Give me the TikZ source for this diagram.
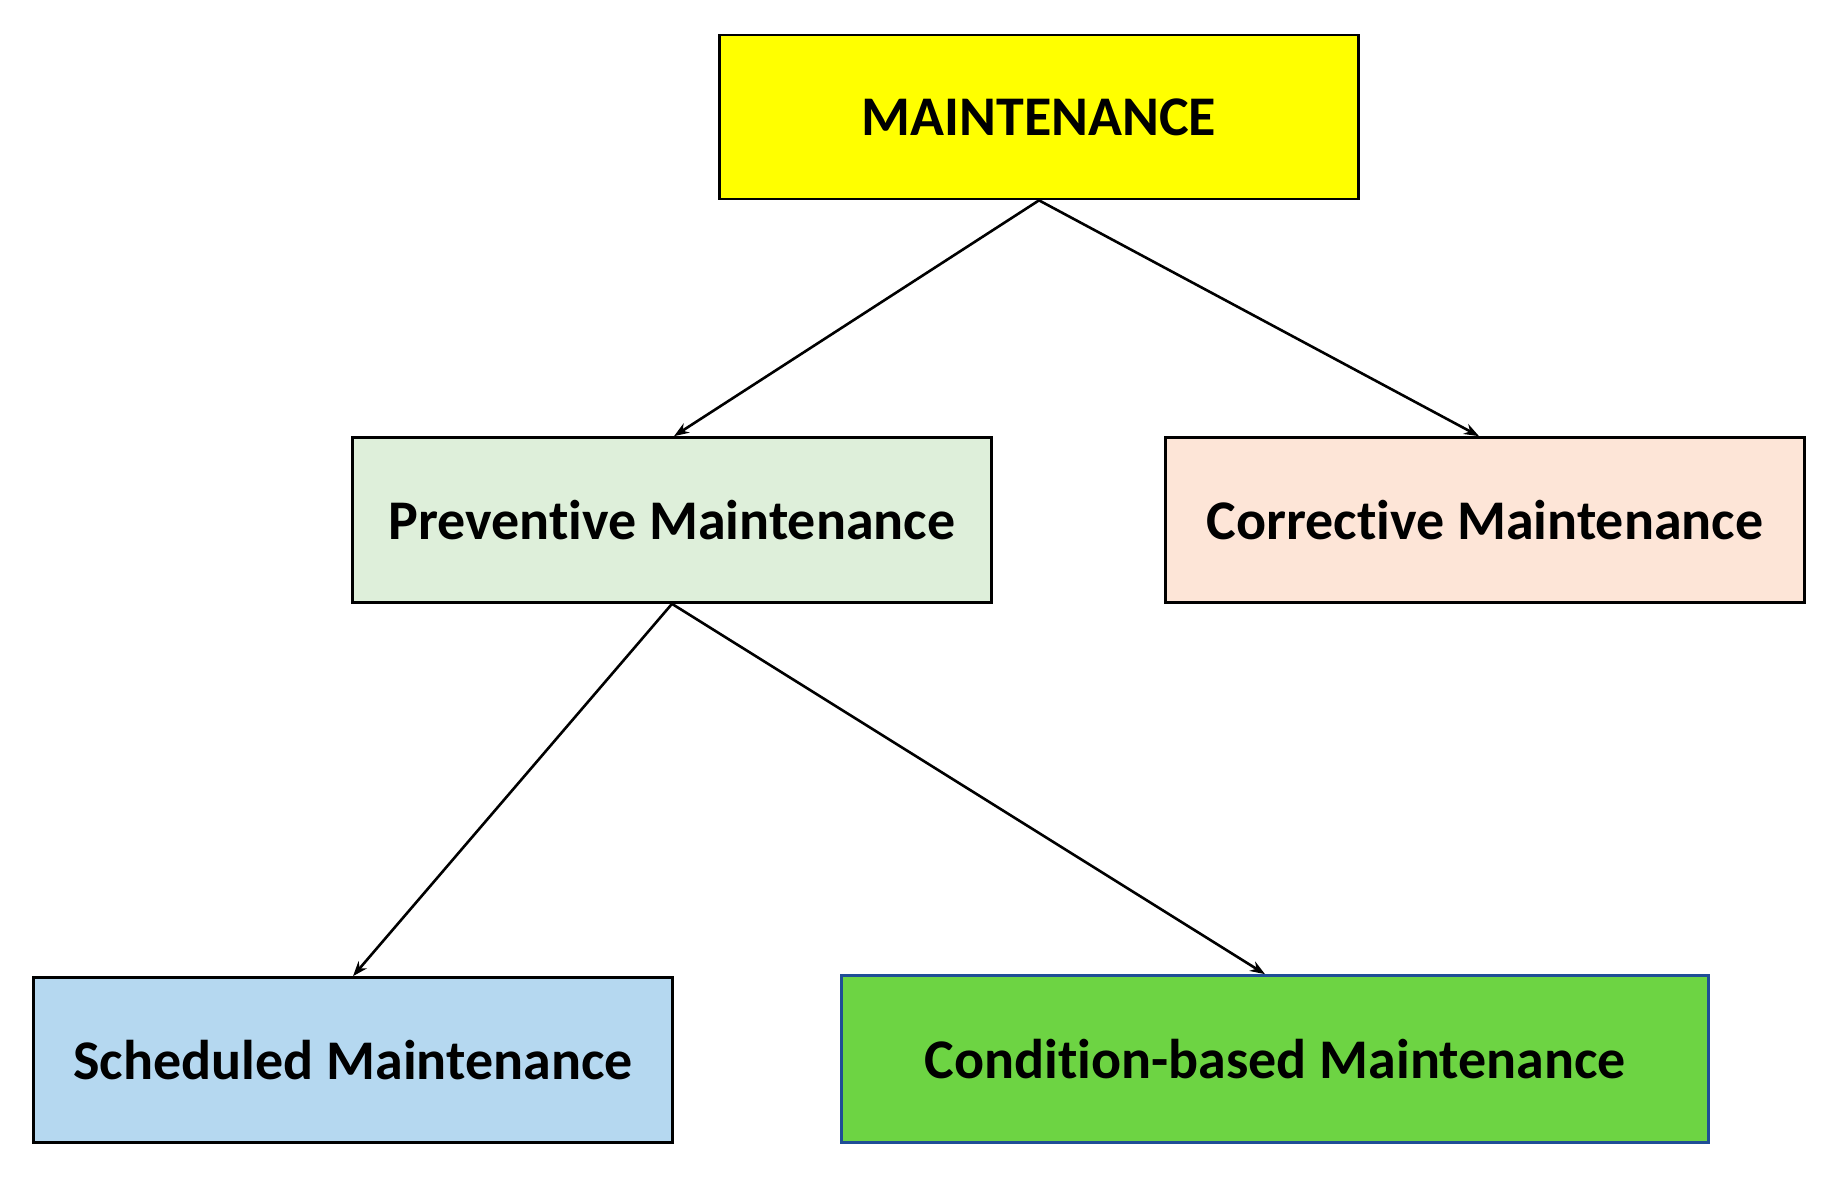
\documentclass[tikz,border=0pt]{standalone}
\usepackage{fontspec}
\setmainfont{Carlito}[Ligatures=NoCommon]
\usetikzlibrary{arrows.meta}
\definecolor{cyel}{HTML}{FFFF00}
\definecolor{cprev}{HTML}{DEEFDA}
\definecolor{ccorr}{HTML}{FDE5D7}
\definecolor{csched}{HTML}{B5D8F0}
\definecolor{ccond}{HTML}{6DD443}
\definecolor{cblue}{HTML}{1F4E96}
\begin{document}
\begin{tikzpicture}[x=1pt,y=-1pt]
\useasboundingbox[fill=white] (0,0) rectangle (1828,1177);
\tikzset{
  box/.style={draw=black, line width=2.7pt, rectangle, inner sep=0pt,
    minimum width=639pt, minimum height=165pt,
    font=\fontsize{56}{60}\selectfont\bfseries},
  conn/.style={line width=2.6pt, -{Stealth[length=15pt,width=11pt]}}
}
\node[box, fill=cyel, minimum height=164pt] (m) at (1039,117) {MAINTENANCE};
\node[box, fill=cprev] (p) at (672,520) {Preventive Maintenance};
\node[box, fill=ccorr] (c) at (1485,520) {Corrective Maintenance};
\node[box, fill=csched] (s) at (353,1060) {Scheduled Maintenance};
\node[box, fill=ccond, draw=cblue, minimum width=867pt, minimum height=167pt] (d) at (1275,1059) {Condition-based Maintenance};
\draw[conn] (m.south) -- ([xshift=-6pt]c.north);
\draw[conn] (m.south) -- ([xshift=2pt]p.north);
\draw[conn] (p.south) -- (s.north);
\draw[conn] (p.south) -- ([xshift=-10pt]d.north);
\end{tikzpicture}
\end{document}
